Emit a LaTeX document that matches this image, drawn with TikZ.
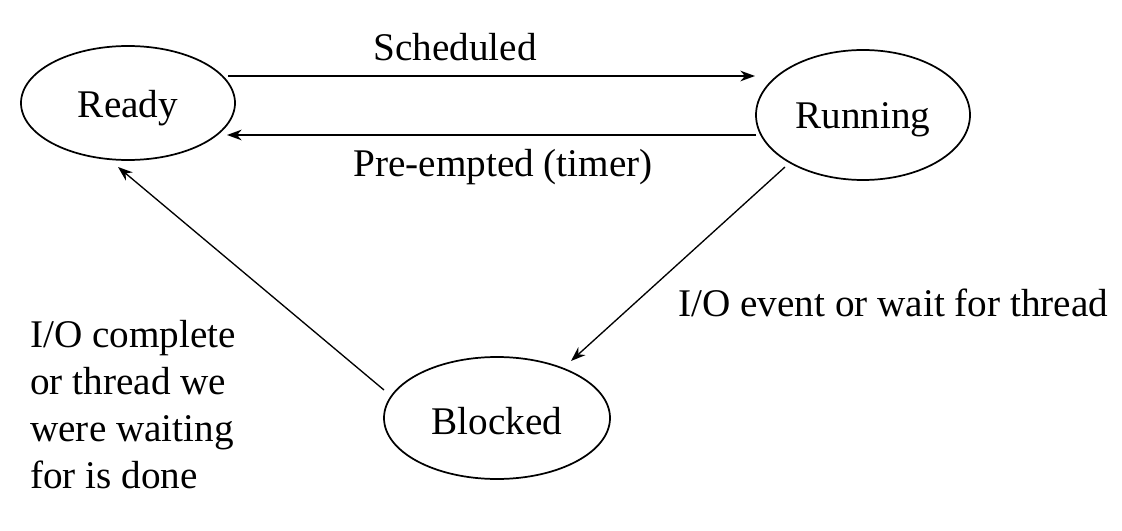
\documentclass[tikz,border=0pt]{standalone}
\usepackage{fontspec}
\setmainfont{Liberation Serif}
\usetikzlibrary{shapes.geometric,arrows.meta,calc}
\begin{document}
\begin{tikzpicture}[x=0.75pt,y=-0.75pt,
  state/.style={ellipse,draw,line width=1.3pt,inner sep=0pt},
  conn/.style={line width=1pt,-{Stealth[length=11pt,width=8pt,inset=3.5pt]}},
  lbl/.style={inner sep=0pt},
  font=\fontsize{29.4}{35.25}\selectfont]
\useasboundingbox (0,0) rectangle (1122,531);
\node[state,minimum width=214*0.75pt,minimum height=114*0.75pt] (ready) at (128,103) {};
\node[state,minimum width=214*0.75pt,minimum height=130*0.75pt] (running) at (863,115) {};
\node[state,minimum width=226*0.75pt,minimum height=122*0.75pt] (blocked) at (497,418) {};
\node[lbl] at ($(ready.center)+(0,5)$) {Ready};
\node[lbl] at ($(running.center)+(0,5)$) {Running};
\node[lbl] at ($(blocked.center)+(0,3)$) {Blocked};
\draw[conn] ($(ready.center)+(100,-27)$) -- ($(running.center)+(-108,-39)$);
\draw[conn] ($(running.center)+(-107,20)$) -- ($(ready.center)+(99,32)$);
\draw[conn] ($(running.center)+(-78,52)$) -- ($(blocked.center)+(74,-57)$);
\draw[conn] ($(blocked.center)+(-113,-28)$) -- ($(ready.center)+(-10,64)$);
\node[lbl] at (455,47) {Scheduled};
\node[lbl] at (503,167) {Pre-empted (timer)};
\node[lbl,anchor=west] at (678,303) {I/O event or wait for thread};
\node[lbl,anchor=west,align=left] at (30,405) {I/O complete\\or thread we\\were waiting\\for is done};
\end{tikzpicture}
\end{document}
